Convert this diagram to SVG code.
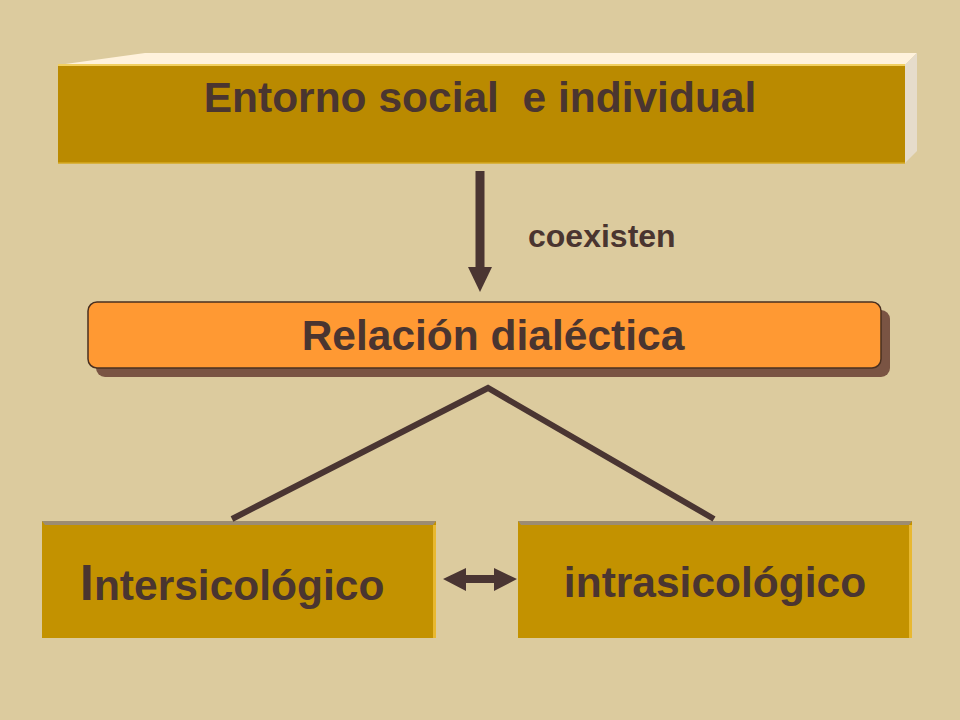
<svg xmlns="http://www.w3.org/2000/svg" width="960" height="720" viewBox="0 0 960 720">
<style>
.t{font-family:"Liberation Sans",Arial,sans-serif;font-weight:bold;fill:#4A3530;}
.ln{stroke:#4A3532;fill:none;}
.ar{fill:#4A3532;}
</style>
<rect width="960" height="720" fill="#DCCB9E"/>
<g id="entorno">
<polygon points="58,65 145,53 917,53 905,65" fill="#FFF2DC"/>
<line x1="58" y1="65" x2="905" y2="65" stroke="#F2D060" stroke-width="2"/>
<polygon points="905,65 917,53 917,151 905,163" fill="#E6DCCB"/>
<rect x="58" y="66" width="847" height="97" fill="#BA8A00"/>
<line x1="58" y1="163" x2="905" y2="163" stroke="#D6A820" stroke-width="1.5"/>
<text class="t" x="480" y="112" font-size="42.5" text-anchor="middle">Entorno social&#160; e individual</text>
</g>
<g id="relacion">
<rect x="96" y="310" width="794" height="67" rx="9" fill="#7A5443"/>
<rect x="88" y="302" width="793" height="66" rx="9" fill="#FF9933" stroke="#4A3020" stroke-width="1.5"/>
<text class="t" x="493" y="350" font-size="42.5" text-anchor="middle">Relación dialéctica</text>
</g>
<g id="inter">
<rect x="42" y="521" width="394" height="117" fill="#C39200"/>
<polygon points="42,521 436,521 433,525 45,525" fill="#9C8C72"/>
<rect x="433" y="525" width="3" height="113" fill="#E8B830"/>
<text class="t" x="80" y="600" font-size="42.5"><tspan font-size="50">I</tspan>ntersicológico</text>
</g>
<g id="intra">
<rect x="518" y="521" width="394" height="117" fill="#C39200"/>
<polygon points="518,521 912,521 909,525 521,525" fill="#9C8C72"/>
<rect x="909" y="525" width="3" height="113" fill="#E8B830"/>
<text class="t" x="715" y="597" font-size="42.5" text-anchor="middle">intrasicológico</text>
</g>
<g id="connectors">
<line class="ln" x1="480" y1="171" x2="480" y2="268" stroke-width="9"/>
<polygon class="ar" points="468,267 492,267 480,292"/>
<text class="t" x="528" y="247" font-size="32">coexisten</text>
<polyline class="ln" points="232,519 488,388 714,519" stroke-width="6" stroke-linejoin="miter"/>
<polygon class="ar" points="443,579 466,568 466,575 494,575 494,568 517,579 494,591 494,583 466,583 466,591"/>
</g>
</svg>
